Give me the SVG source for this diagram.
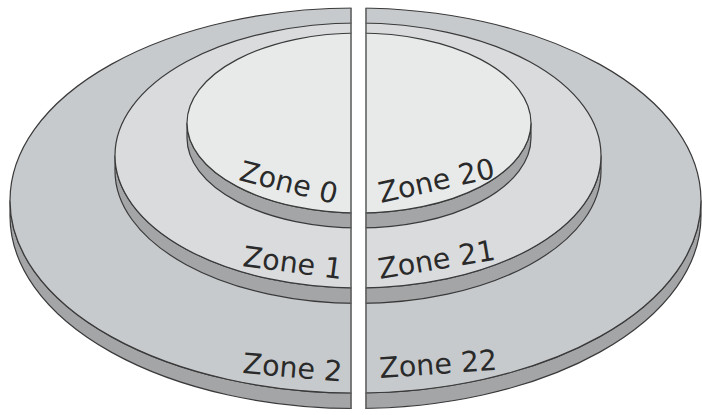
<svg xmlns="http://www.w3.org/2000/svg" width="702" height="415" viewBox="0 0 702 415">
<style>
.side{fill:#a3a5a7;stroke:#3a3a3a;stroke-width:1.2}
.top2{fill:#c7cacd;stroke:#3a3a3a;stroke-width:1.2}
.top1{fill:#d9dbdd;stroke:#3a3a3a;stroke-width:1.2}
.top0{fill:#e8eaea;stroke:#3a3a3a;stroke-width:1.2}
.lbl{font-family:"DejaVu Sans","Liberation Sans",sans-serif;font-size:28.5px;fill:#2a2a2a}
.cut{stroke:#5a5a5a;stroke-width:1.5}
</style>
<rect width="702" height="415" fill="#ffffff"/>
<g id="zone-2-disc">
<path class="side" d="M10,200.5 L10,216 A345.5,192.5 0 0 0 701,216 L701,200.5 A345.5,192.5 0 0 1 10,200.5 Z"/>
<ellipse class="top2" cx="355.5" cy="200.5" rx="345.5" ry="192.5"/>
</g>
<g id="zone-1-disc">
<path class="side" d="M115,155.5 L115,171 A243,132.5 0 0 0 601,171 L601,155.5 A243,132.5 0 0 1 115,155.5 Z"/>
<ellipse class="top1" cx="358" cy="155.5" rx="243" ry="132.5"/>
</g>
<g id="zone-0-disc">
<path class="side" d="M187,123 L187,138 A172,90 0 0 0 531,138 L531,123 A172,90 0 0 1 187,123 Z"/>
<ellipse class="top0" cx="359" cy="123" rx="172" ry="90"/>
</g>
<g id="cut">
<rect x="351.5" y="0" width="14" height="415" fill="#ffffff"/>
<line class="cut" x1="351" y1="8" x2="351" y2="409"/>
<line class="cut" x1="366" y1="8" x2="366" y2="409"/>
</g>
<g id="labels">
<text class="lbl" transform="translate(238,180) rotate(14)">Zone 0</text>
<text class="lbl" transform="translate(381,203) rotate(-12.5)">Zone 20</text>
<text class="lbl" transform="translate(242,266) rotate(7.5)">Zone 1</text>
<text class="lbl" transform="translate(380,279) rotate(-9.5)">Zone 21</text>
<text class="lbl" transform="translate(242,373) rotate(5)">Zone 2</text>
<text class="lbl" transform="translate(380,378) rotate(-4)">Zone 22</text>
</g>
</svg>
